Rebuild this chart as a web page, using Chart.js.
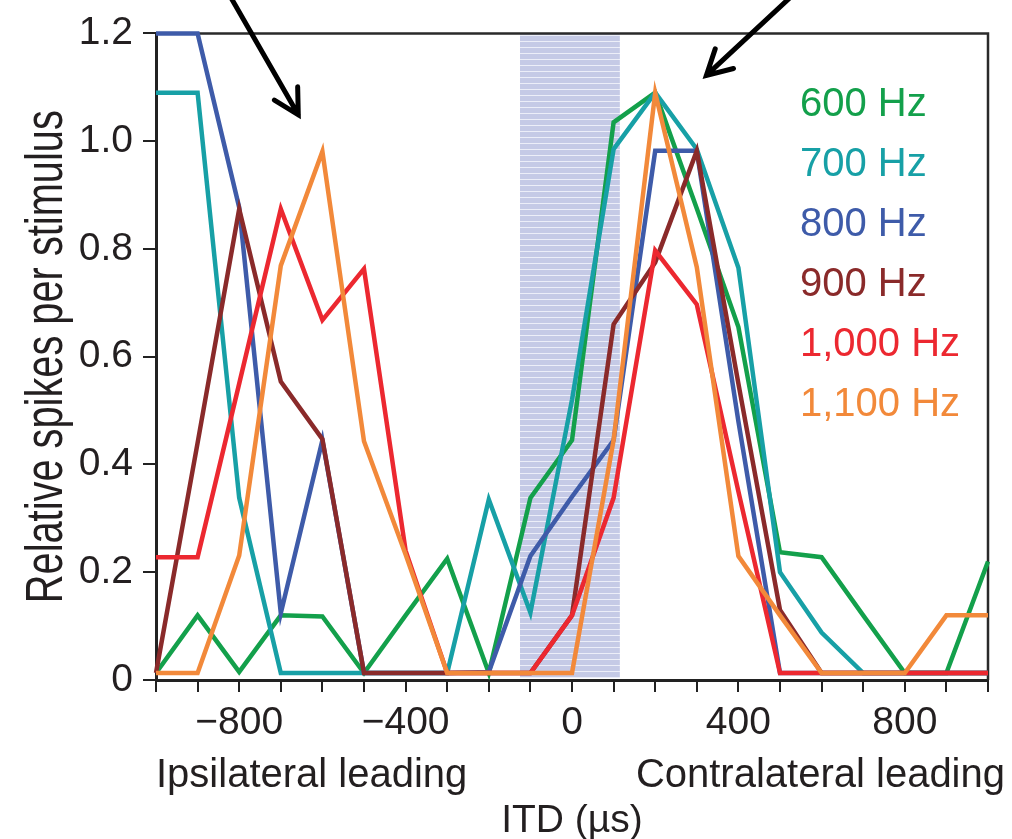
<!DOCTYPE html>
<html>
<head>
<meta charset="utf-8">
<script src="https://cdn.jsdelivr.net/npm/chart.js@4.4.1/dist/chart.umd.min.js"></script>
<style>
  html, body { margin: 0; padding: 0; background: #fff; }
</style>
</head>
<body>
<canvas id="itdChart" width="1012" height="839"></canvas>
<script>
// ITD values (µs)
const itd = [-1000, -900, -800, -700, -600, -500, -400, -300, -200, -100, 0,
             100, 200, 300, 400, 500, 600, 700, 800, 900, 1000];

// Relative spikes per stimulus, one array per frequency
const hz600  = [0.013, 0.12, 0.015, 0.12, 0.118, 0.013, 0.12, 0.225, 0.013, 0.338, 0.445,
                1.035, 1.09, 0.875, 0.655, 0.237, 0.228, 0.12, 0.013, 0.013, 0.22];
const hz700  = [1.09, 1.09, 0.338, 0.013, 0.013, 0.013, 0.013, 0.013, 0.335, 0.125, 0.52,
                0.985, 1.09, 0.985, 0.765, 0.2, 0.088, 0.013, 0.013, 0.013, 0.013];
const hz800  = [1.2, 1.2, 0.877, 0.124, 0.445, 0.013, 0.013, 0.013, 0.015, 0.23, 0.34,
                0.445, 0.982, 0.982, 0.48, 0.013, 0.013, 0.013, 0.013, 0.013, 0.013];
const hz900  = [0.013, 0.44, 0.874, 0.554, 0.447, 0.013, 0.013, 0.013, 0.013, 0.013, 0.12,
                0.66, 0.775, 0.982, 0.55, 0.13, 0.013, 0.013, 0.013, 0.013, 0.013];
const hz1000 = [0.228, 0.228, 0.55, 0.874, 0.668, 0.763, 0.24, 0.013, 0.013, 0.013, 0.12,
                0.338, 0.797, 0.697, 0.35, 0.013, 0.013, 0.013, 0.013, 0.013, 0.013];
const hz1100 = [0.013, 0.013, 0.231, 0.769, 0.981, 0.443, 0.233, 0.013, 0.013, 0.013, 0.013,
                0.445, 1.09, 0.766, 0.23, 0.12, 0.013, 0.013, 0.013, 0.12, 0.12];

const seriesLabels = ["600 Hz", "700 Hz", "800 Hz", "900 Hz", "1,000 Hz", "1,100 Hz"];
const seriesData = [hz600, hz700, hz800, hz900, hz1000, hz1100];
const colors = ["#13a04b", "#17a0a6", "#3e5ba9", "#8a2a2a", "#ec2830", "#f2893a"];

const yTicks = [0, 0.2, 0.4, 0.6, 0.8, 1.0, 1.2];
const xTickLabels = [-800, -400, 0, 400, 800];
const bandRange = [-125, 115];

const FONT = "'Liberation Sans', Arial, sans-serif";
const INK = "#231f20";

// striped fill for the shaded band
function stripePattern(ctx) {
    const c = document.createElement("canvas");
    c.width = 8; c.height = 6;
    const p = c.getContext("2d");
    p.fillStyle = "#c5cae6";
    p.fillRect(0, 0, 8, 6);
    p.fillStyle = "#eceef8";
    p.fillRect(0, 5, 8, 1);
    return ctx.createPattern(c, "repeat");
}

function arrow(ctx, x0, y0, x1, y1) {
    const ang = Math.atan2(y1 - y0, x1 - x0);
    const len = 28, spread = 0.5;
    ctx.beginPath();
    ctx.moveTo(x0, y0);
    ctx.lineTo(x1, y1);
    ctx.moveTo(x1 - len * Math.cos(ang - spread), y1 - len * Math.sin(ang - spread));
    ctx.lineTo(x1, y1);
    ctx.lineTo(x1 - len * Math.cos(ang + spread), y1 - len * Math.sin(ang + spread));
    ctx.stroke();
}

const extras = {
    id: "extras",
    beforeDatasetsDraw(chart) {
        const { ctx, chartArea, scales: { x } } = chart;
        ctx.save();
        // shaded band
        const x0 = x.getPixelForValue(bandRange[0]);
        const x1 = x.getPixelForValue(bandRange[1]);
        ctx.fillStyle = stripePattern(ctx);
        ctx.fillRect(x0, chartArea.top, x1 - x0, chartArea.bottom - chartArea.top - 2);
        // top and right frame
        ctx.strokeStyle = "#2a2a2a";
        ctx.lineWidth = 2.5;
        ctx.beginPath();
        ctx.moveTo(chartArea.left, chartArea.top);
        ctx.lineTo(chartArea.right, chartArea.top);
        ctx.lineTo(chartArea.right, chartArea.bottom);
        ctx.stroke();
        ctx.restore();
    },
    afterDraw(chart) {
        const { ctx, chartArea, scales: { x, y } } = chart;
        ctx.save();
        // legend as coloured text
        ctx.font = "40px " + FONT;
        ctx.textAlign = "left";
        ctx.textBaseline = "middle";
        seriesLabels.forEach((lab, i) => {
            ctx.fillStyle = colors[i];
            ctx.fillText(lab, 800, 105 + i * 60);
        });
        // direction labels and axis title under the x axis
        ctx.fillStyle = INK;
        ctx.textBaseline = "alphabetic";
        ctx.fillText("Ipsilateral leading", chartArea.left, 787);
        ctx.textAlign = "right";
        ctx.fillText("Contralateral leading", 1005, 787);
        ctx.textAlign = "center";
        ctx.font = "39px " + FONT;
        ctx.fillText("ITD (\u00b5s)", x.getPixelForValue(0), 832);
        // condensed y axis title
        ctx.save();
        ctx.translate(62, (chartArea.top + chartArea.bottom) / 2);
        ctx.rotate(-Math.PI / 2);
        ctx.scale(0.78, 1);
        ctx.font = "51px " + FONT;
        ctx.fillText("Relative spikes per stimulus", 0, 0);
        ctx.restore();
        // arrows
        ctx.strokeStyle = "#000";
        ctx.lineWidth = 5;
        ctx.lineCap = "round";
        ctx.lineJoin = "miter";
        arrow(ctx, x.getPixelForValue(-830), y.getPixelForValue(1.28),
                   x.getPixelForValue(-658), y.getPixelForValue(1.049));
        arrow(ctx, x.getPixelForValue(550), y.getPixelForValue(1.285),
                   x.getPixelForValue(323), y.getPixelForValue(1.122));
        ctx.restore();
    }
};

const ctx = document.getElementById("itdChart").getContext("2d");

new Chart(ctx, {
    type: "line",
    data: {
        datasets: seriesData.map((vals, i) => ({
            label: seriesLabels[i],
            data: vals.map((v, k) => ({ x: itd[k], y: v })),
            borderColor: colors[i],
            borderWidth: 4.5,
            pointRadius: 0,
            tension: 0,
            fill: false,
            clip: false,
            order: seriesData.length - i
        }))
    },
    options: {
        responsive: false,
        animation: false,
        layout: { padding: { left: 0, right: 24, top: 30, bottom: 0 } },
        plugins: {
            legend: { display: false },
            tooltip: { enabled: false }
        },
        scales: {
            x: {
                type: "linear",
                min: -1000,
                max: 1000,
                afterFit: (s) => { s.height = 159; },
                afterBuildTicks: (s) => { s.ticks = itd.map(v => ({ value: v })); },
                ticks: {
                    autoSkip: false,
                    maxRotation: 0,
                    padding: 8,
                    color: INK,
                    font: { family: FONT, size: 39 },
                    callback: (v) => xTickLabels.includes(v) ? (v < 0 ? "\u2212" + Math.abs(v) : String(v)) : ""
                },
                grid: { drawOnChartArea: false, tickLength: 12, color: "#222", lineWidth: 2 },
                border: { color: "#222", width: 3 }
            },
            y: {
                min: 0,
                max: 1.2,
                afterFit: (s) => { s.width = 156; },
                afterBuildTicks: (s) => { s.ticks = yTicks.map(v => ({ value: v })); },
                ticks: {
                    padding: 10,
                    color: INK,
                    font: { family: FONT, size: 39 },
                    callback: (v) => v === 0 ? "0" : v.toFixed(1)
                },
                grid: { drawOnChartArea: false, tickLength: 13, color: "#222", lineWidth: 2 },
                border: { color: "#222", width: 3 }
            }
        }
    },
    plugins: [extras]
});
</script>
</body>
</html>
